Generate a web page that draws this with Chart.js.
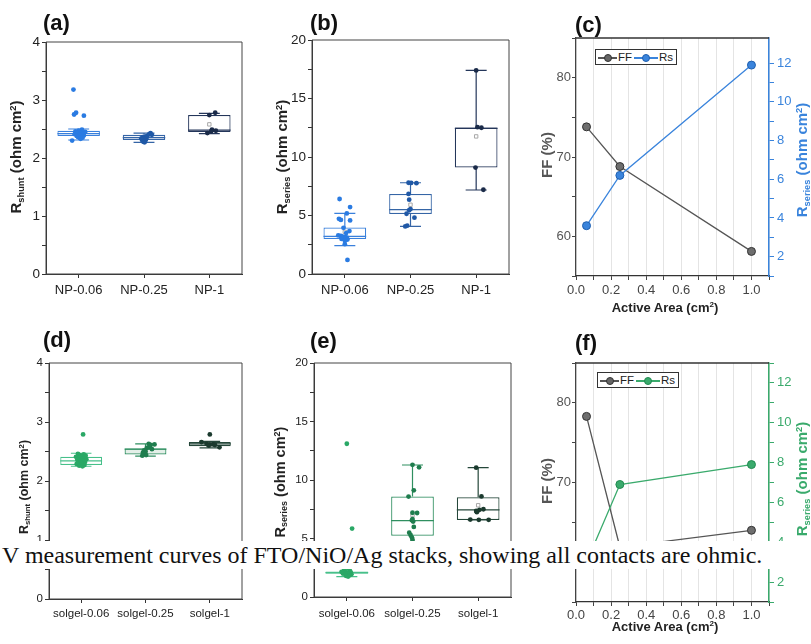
<!DOCTYPE html>
<html>
<head>
<meta charset="utf-8">
<script src="https://cdn.jsdelivr.net/npm/chart.js@4.4.1/dist/chart.umd.min.js"></script>
<style>
  body { margin: 0; background: #fff; width: 811px; height: 644px; overflow: hidden; position: relative;
         font-family: "Liberation Sans", Arial, sans-serif; }
  .pane { position: absolute; }
  .lbl { position: absolute; font-weight: bold; font-size: 22px; line-height: 1; color: #111; }
  .yt { position: absolute; font-weight: bold; white-space: nowrap; line-height: 1;
        transform: translate(-50%, -50%) rotate(-90deg); }
  .xt { position: absolute; font-weight: bold; white-space: nowrap; line-height: 1; color: #222;
        transform: translate(-50%, -50%); font-size: 13px; }
  .yt sub, .xt sub { font-size: 0.62em; vertical-align: -0.25em; }
  .yt sup, .xt sup { font-size: 0.62em; vertical-align: 0.6em; }
  .leg { position: absolute; border: 1px solid #333; background: #fff; height: 14px; font-size: 11.5px;
         line-height: 14px; white-space: nowrap; color: #222; padding-right: 3px; }
  .smp { display: inline-block; position: relative; width: 19px; height: 1.3px; vertical-align: middle; margin: 0 1px 0 2px; }
  .smp i { position: absolute; left: 50%; top: 50%; width: 6px; height: 6px; border-radius: 50%;
           transform: translate(-50%, -50%); }
  .cap { position: absolute; left: 0; top: 541px; width: 811px; height: 28px; background: #fff;
         font-family: "Liberation Serif", "Times New Roman", serif; font-size: 24px; line-height: 28px;
         color: #111; padding-left: 2px; white-space: nowrap; }
</style>
</head>
<body>

<div class="pane" style="left:0;top:0"><canvas id="ca" width="265" height="305"></canvas></div>
<div class="pane" style="left:265px;top:0"><canvas id="cb" width="270" height="305"></canvas></div>
<div class="pane" style="left:535px;top:0"><canvas id="cc" width="276" height="320"></canvas></div>
<div class="pane" style="left:0;top:320px"><canvas id="cd" width="265" height="324"></canvas></div>
<div class="pane" style="left:265px;top:320px"><canvas id="ce" width="270" height="324"></canvas></div>
<div class="pane" style="left:535px;top:320px"><canvas id="cf" width="276" height="324"></canvas></div>

<div class="lbl" style="left:43px;top:12px">(a)</div>
<div class="lbl" style="left:310px;top:12px">(b)</div>
<div class="lbl" style="left:575px;top:14px">(c)</div>
<div class="lbl" style="left:43px;top:329px">(d)</div>
<div class="lbl" style="left:310px;top:330px">(e)</div>
<div class="lbl" style="left:575px;top:332px">(f)</div>

<div class="yt" style="left:17px;top:157px;font-size:15px;color:#222">R<sub>shunt</sub> (ohm cm<sup>2</sup>)</div>
<div class="yt" style="left:283px;top:157px;font-size:15px;color:#222">R<sub>series</sub> (ohm cm<sup>2</sup>)</div>
<div class="yt" style="left:546px;top:155px;font-size:15px;color:#555">FF (%)</div>
<div class="yt" style="left:803px;top:160px;font-size:15px;color:#3a84dc">R<sub>series</sub> (ohm cm<sup>2</sup>)</div>
<div class="xt" style="left:665px;top:307px">Active Area (cm<sup>2</sup>)</div>

<div class="yt" style="left:25px;top:487px;font-size:12.5px;color:#222">R<sub>shunt</sub> (ohm cm<sup>2</sup>)</div>
<div class="yt" style="left:281px;top:482px;font-size:14.5px;color:#222">R<sub>series</sub> (ohm cm<sup>2</sup>)</div>
<div class="yt" style="left:546px;top:481px;font-size:15px;color:#555">FF (%)</div>
<div class="yt" style="left:803px;top:479px;font-size:15px;color:#3aaa6c">R<sub>series</sub> (ohm cm<sup>2</sup>)</div>
<div class="xt" style="left:665px;top:626px">Active Area (cm<sup>2</sup>)</div>

<div class="leg" style="left:595px;top:49px">
  <span class="smp" style="background:#555"><i style="background:#666;border:1px solid #333"></i></span>FF<span class="smp" style="background:#3a84dc;width:24px"><i style="background:#3a84dc;border:1px solid #2060b0"></i></span>Rs
</div>
<div class="leg" style="left:597px;top:372px">
  <span class="smp" style="background:#555"><i style="background:#666;border:1px solid #333"></i></span>FF<span class="smp" style="background:#3aaa6c;width:24px"><i style="background:#3aaa6c;border:1px solid #208a50"></i></span>Rs
</div>

<div class="cap">V measurement curves of FTO/NiO/Ag stacks, showing all contacts are ohmic.</div>

<script>
// categories
const npCats = ['NP-0.06', 'NP-0.25', 'NP-1'];
const solCats = ['solgel-0.06', 'solgel-0.25', 'solgel-1'];
const areas = [0.06, 0.25, 1.0];

// (a) NP, R shunt
const aLow  = [2.31, 2.27, 2.42];
const aQ1   = [2.38, 2.31, 2.45];
const aMed  = [2.42, 2.35, 2.48];
const aQ3   = [2.47, 2.40, 2.74];
const aHigh = [2.50, 2.43, 2.77];
const aMean = [2.46, 2.35, 2.58];
// points: [value, horizontal jitter]
const aPts = [
  [[3.18,-0.08],[2.78,-0.04],[2.75,-0.07],[2.73,0.08],[2.49,0.05],[2.47,0.0],[2.46,-0.05],[2.45,0.1],[2.44,0.03],[2.43,-0.02],
   [2.42,0.06],[2.41,-0.06],[2.40,0.02],[2.39,0.08],[2.38,-0.03],[2.37,0.04],[2.36,-0.01],[2.35,0.06],[2.33,0.03],[2.30,-0.1]],
  [[2.43,0.1],[2.41,0.08],[2.40,0.12],[2.38,0.05],[2.37,0.02],[2.36,-0.02],[2.35,0.04],[2.34,-0.04],[2.33,0.0],[2.32,0.03],
   [2.31,-0.03],[2.30,0.02],[2.28,-0.01],[2.27,0.01]],
  [[2.78,0.09],[2.74,0.0],[2.49,0.04],[2.47,0.1],[2.46,0.03],[2.43,-0.03]]
];

// (b) NP, R series
const bLow  = [2.42, 4.07, 7.18];
const bQ1   = [2.99, 5.13, 9.11];
const bMed  = [3.22, 5.50, 12.45];
const bQ3   = [3.98, 6.84, 12.53];
const bHigh = [5.18, 7.80, 17.40];
const bMean = [3.60, 5.92, 11.76];
const bPts = [
  [[6.41,-0.08],[5.72,0.08],[5.18,0.03],[4.72,-0.09],[4.62,-0.06],[4.58,0.08],[3.95,-0.02],[3.67,0.07],[3.50,0.02],[3.30,-0.1],
   [3.25,-0.06],[3.20,-0.03],[3.15,0.01],[3.10,0.03],[3.05,-0.01],[3.00,-0.05],[2.95,0.04],[2.85,0.0],[2.55,0.0],[1.20,0.04]],
  [[7.80,-0.03],[7.78,0.01],[7.76,0.09],[6.84,-0.03],[6.35,-0.02],[5.55,0.0],[5.45,-0.02],[5.15,-0.06],[4.81,0.06],[4.13,-0.05],[4.07,-0.08]],
  [[17.4,0.0],[12.55,0.02],[12.50,0.08],[9.10,-0.01],[7.20,0.11]]
];

// (c) NP, FF and Rs vs active area
const cFF = [73.8, 68.8, 58.1];
const cRs = [3.6, 6.2, 11.9];

// (d) solgel, R shunt
const dLow  = [2.25, 2.42, 2.56];
const dQ1   = [2.27, 2.45, 2.59];
const dMed  = [2.34, 2.54, 2.63];
const dQ3   = [2.41, 2.55, 2.66];
const dHigh = [2.47, 2.63, 2.67];
const dMean = [2.35, 2.50, 2.62];
const dPts = [
  [[2.79,0.03],[2.46,-0.05],[2.45,0.04],[2.44,-0.02],[2.43,0.07],[2.42,0.0],[2.41,-0.08],[2.40,0.05],[2.39,-0.03],[2.38,0.02],
   [2.37,0.08],[2.36,-0.06],[2.35,0.0],[2.34,0.04],[2.33,-0.04],[2.32,0.06],[2.31,-0.01],[2.30,0.03],[2.29,-0.07],[2.28,0.01],
   [2.27,0.05],[2.26,-0.03],[2.25,0.02]],
  [[2.63,0.05],[2.62,0.14],[2.61,0.08],[2.58,0.06],[2.56,0.02],[2.54,0.1],[2.52,-0.02],[2.50,0.0],[2.48,-0.04],[2.46,-0.03],
   [2.44,0.01],[2.43,-0.05]],
  [[2.79,0.0],[2.66,-0.13],[2.63,-0.05],[2.62,0.0],[2.62,0.05],[2.61,0.08],[2.60,-0.02],[2.57,0.15]]
];

// (e) solgel, R series
const eLow  = [1.75, 4.70, 6.60];
const eQ1   = [1.99, 5.23, 6.59];
const eMed  = [2.08, 6.53, 7.44];
const eQ3   = [2.18, 8.58, 8.53];
const eHigh = [2.50, 11.28, 11.05];
const eMean = [2.75, 7.00, 7.84];
const ePts = [
  [[13.1,0.0],[5.85,0.08],[2.45,0.02],[2.30,-0.04],[2.20,0.05],[2.15,-0.08],[2.10,0.0],[2.08,0.06],[2.05,-0.03],[2.02,0.03],
   [2.00,-0.06],[1.97,0.01],[1.94,0.07],[1.90,-0.02],[1.85,0.04],[1.80,-0.01],[1.75,0.02]],
  [[11.3,0.0],[11.08,0.1],[9.12,0.02],[8.58,-0.06],[7.20,0.0],[7.18,0.07],[6.66,0.0],[6.55,-0.01],[6.45,0.01],[5.99,0.02],
   [5.50,-0.05],[5.30,-0.03],[5.10,-0.01],[4.90,0.0],[4.70,0.0]],
  [[11.05,-0.03],[8.60,0.05],[7.50,0.08],[7.45,0.02],[7.35,-0.03],[7.25,-0.02],[6.62,-0.12],[6.60,0.01],[6.60,0.16]]
];

// (f) solgel, FF and Rs vs active area
const fFF = [78.3, 61.9, 64.0];
const fRs = [3.0, 6.9, 7.9];

const npLine = ['#3a80dc', '#3565a6', '#24365a'];
const npDot  = ['#2a7be2', '#1f58a6', '#1a2a48'];
const npFill = ['#ffffff', '#f1f4f9', '#ffffff'];
const solLine = ['#47c08a', '#2f8f60', '#25473a'];
const solDot  = ['#2aa866', '#1f7d4e', '#1b3a2e'];
const solFill = ['#ffffff', '#e4efe8', '#e7ebe9'];

Chart.defaults.font.family = '"Liberation Sans", Arial, sans-serif';
Chart.defaults.animation = false;
Chart.defaults.events = [];
Chart.defaults.plugins.legend.display = false;
Chart.defaults.plugins.tooltip.enabled = false;

const frame = {
  id: 'frame',
  afterDraw(chart, args, opts) {
    const a = chart.chartArea, ctx = chart.ctx;
    ctx.save();
    ctx.strokeStyle = opts.color || '#444';
    ctx.lineWidth = opts.width || 1;
    ctx.beginPath();
    if (opts.topOnly) { ctx.moveTo(a.left, a.top); ctx.lineTo(a.right, a.top); }
    else ctx.rect(a.left, a.top, a.right - a.left, a.bottom - a.top);
    ctx.stroke();
    ctx.restore();
  }
};

function boxChart(id, o) {
  const ds = [];
  o.pts.forEach((grp, i) => {
    ds.push({ type: 'scatter', order: 0, data: grp.map(p => ({ x: i + 1 + p[1], y: p[0] })),
      backgroundColor: o.dot[i], borderColor: o.dot[i], pointRadius: 2.4, borderWidth: 0 });
  });
  ds.push({ type: 'scatter', order: 1, data: o.mean.map((m, i) => ({ x: i + 1, y: m })),
    pointStyle: 'rect', pointRadius: 2.4, backgroundColor: '#fff', borderColor: '#a8a8a8', borderWidth: 1 });
  o.cats.forEach((c, i) => {
    const x = i + 1, gap = { x: x, y: null }, cw = 0.16, bw = 0.325;
    ds.push({ type: 'line', order: 2, borderColor: o.line[i], borderWidth: 1.2, pointRadius: 0, spanGaps: false,
      data: [
        { x: x, y: o.q3[i] }, { x: x, y: o.hi[i] }, gap,
        { x: x - cw, y: o.hi[i] }, { x: x + cw, y: o.hi[i] }, gap,
        { x: x, y: o.q1[i] }, { x: x, y: o.lo[i] }, gap,
        { x: x - cw, y: o.lo[i] }, { x: x + cw, y: o.lo[i] }, gap,
        { x: x - bw, y: o.med[i] }, { x: x + bw, y: o.med[i] }
      ] });
  });
  ds.push({ type: 'bar', order: 3, data: o.cats.map((c, i) => ({ x: i + 1, y: [o.q1[i], o.q3[i]] })),
    backgroundColor: o.fill, borderColor: o.line, borderWidth: 1.2, borderSkipped: false,
    barPercentage: 0.65, categoryPercentage: 1, grouped: false });

  new Chart(document.getElementById(id), {
    type: 'scatter',
    data: { datasets: ds },
    options: {
      responsive: false,
      layout: { padding: { left: 0, top: o.top, right: o.right, bottom: 0 } },
      scales: {
        x: {
          type: 'linear', min: 0.5, max: 3.5, offset: false,
          afterBuildTicks: s => { s.ticks = o.cats.map((c, i) => ({ value: i + 1 })); },
          afterFit: s => { s.height = o.xh; },
          ticks: { callback: (v, i) => o.cats[i], autoSkip: false, maxRotation: 0,
                   font: { size: o.xfs }, color: '#222', padding: o.xpad },
          grid: { offset: false, drawOnChartArea: false, tickLength: 4, color: '#333' },
          border: { color: '#333', width: 1 }
        },
        y: {
          min: 0, max: o.ymax,
          afterFit: s => { s.width = o.yw; },
          ticks: { stepSize: o.step / 2, callback: v => (v % o.step === 0 ? v : ''),
                   font: { size: o.yfs }, color: '#222', padding: 2 },
          grid: { drawOnChartArea: false, tickLength: 4, color: '#333' },
          border: { color: '#333', width: 1 }
        }
      },
      plugins: { frame: { color: '#444', width: 1 } }
    },
    plugins: [frame]
  });
}

function areaChart(id, o) {
  new Chart(document.getElementById(id), {
    type: 'line',
    data: { datasets: [
      { label: 'Rs', order: 0, yAxisID: 'y2', data: areas.map((a, i) => ({ x: a, y: o.rs[i] })),
        borderColor: o.col, borderWidth: 1.3, pointRadius: 4, pointBackgroundColor: o.col,
        pointBorderColor: o.colDark, pointBorderWidth: 1 },
      { label: 'FF', order: 1, yAxisID: 'y', data: areas.map((a, i) => ({ x: a, y: o.ff[i] })),
        borderColor: '#555', borderWidth: 1.3, pointRadius: 4, pointBackgroundColor: '#6e6e6e',
        pointBorderColor: '#333', pointBorderWidth: 1 }
    ] },
    options: {
      responsive: false,
      layout: { padding: { left: 0, top: o.top, right: 0, bottom: 0 } },
      scales: {
        x: {
          type: 'linear', min: 0, max: 1.1,
          afterFit: s => { s.height = o.xh; },
          ticks: { stepSize: 0.1, autoSkip: false, maxRotation: 0,
                   callback: v => (Math.round(v * 10) % 2 === 0 && v < 1.05 ? v.toFixed(1) : ''),
                   font: { size: 13 }, color: '#444', padding: o.xpad },
          grid: { drawOnChartArea: true, color: '#e4e4e4', tickColor: '#444', tickLength: 4 },
          border: { color: '#333', width: 1.2 }
        },
        y: {
          position: 'left', min: 55, max: 85,
          afterFit: s => { s.width = 41; },
          ticks: { stepSize: 5, callback: v => (v % 10 === 0 ? v : ''), font: { size: 13 }, color: '#555', padding: 1 },
          grid: { drawOnChartArea: false, tickLength: 4, color: '#444' },
          border: { color: '#444', width: 1.2 }
        },
        y2: {
          position: 'right', min: 1, max: o.rmax,
          afterFit: s => { s.width = 42; },
          afterBuildTicks: s => { s.ticks = s.ticks.filter(t => Math.abs(t.value - Math.round(t.value)) < 1e-6); },
          ticks: { stepSize: 1, callback: v => (v % 2 === 0 ? v : ''), font: { size: 13 }, color: o.col, padding: 3 },
          grid: { drawOnChartArea: false, tickLength: 5, color: o.col },
          border: { color: o.col, width: 1.5 }
        }
      },
      plugins: { frame: { color: '#333', width: 1.5, topOnly: true } }
    },
    plugins: [frame]
  });
}

boxChart('ca', { cats: npCats, lo: aLow, q1: aQ1, med: aMed, q3: aQ3, hi: aHigh, mean: aMean, pts: aPts,
  line: npLine, dot: npDot, fill: npFill, ymax: 4, step: 1, top: 42, right: 23, yw: 46, xh: 31,
  xfs: 13, yfs: 13.5, xpad: 5 });
boxChart('cb', { cats: npCats, lo: bLow, q1: bQ1, med: bMed, q3: bQ3, hi: bHigh, mean: bMean, pts: bPts,
  line: npLine, dot: npDot, fill: ['#fff', '#fff', '#fff'], ymax: 20, step: 5, top: 40, right: 26, yw: 47, xh: 31,
  xfs: 13, yfs: 13.5, xpad: 5 });
areaChart('cc', { ff: cFF, rs: cRs, col: '#3a84dc', colDark: '#2060b0', rmax: 13.3, top: 38, xh: 44, xpad: 3 });
boxChart('cd', { cats: solCats, lo: dLow, q1: dQ1, med: dMed, q3: dQ3, hi: dHigh, mean: dMean, pts: dPts,
  line: solLine, dot: solDot, fill: solFill, ymax: 4, step: 1, top: 43, right: 23, yw: 49, xh: 45,
  xfs: 11.5, yfs: 11.5, xpad: 4 });
boxChart('ce', { cats: solCats, lo: eLow, q1: eQ1, med: eMed, q3: eQ3, hi: eHigh, mean: eMean, pts: ePts,
  line: solLine, dot: solDot, fill: ['#fff', '#fff', '#fff'], ymax: 20, step: 5, top: 43, right: 24, yw: 49, xh: 47,
  xfs: 11.5, yfs: 11.5, xpad: 6 });
areaChart('cf', { ff: fFF, rs: fRs, col: '#3aaa6c', colDark: '#208a50', rmax: 13, top: 43, xh: 42, xpad: 2 });
</script>
</body>
</html>
